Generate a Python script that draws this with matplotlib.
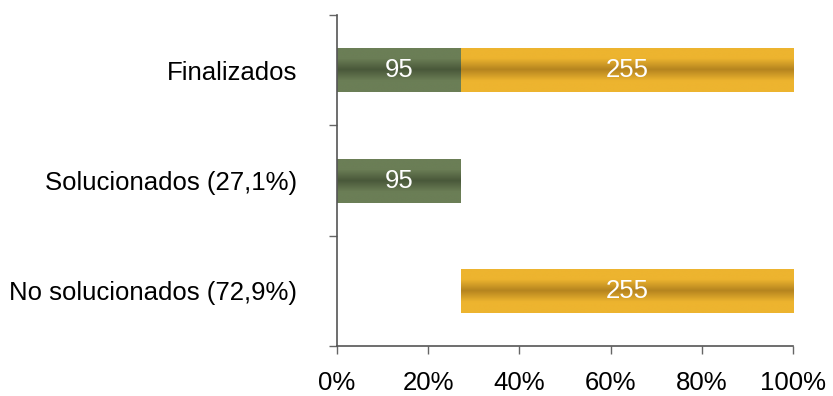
import numpy as np
import matplotlib.pyplot as plt
from matplotlib.colors import LinearSegmentedColormap

categories = ['No solucionados (72,9%)', 'Solucionados (27,1%)', 'Finalizados']
solved = [0, 95, 95]
unsolved = [255, 0, 255]
total = 350

plt.rcParams['font.family'] = ['Liberation Sans', 'DejaVu Sans']

green_edge, green_mid = '#6b7e56', '#49583a'
gold_edge, gold_mid = '#edb42f', '#b5841f'


def gradient_bar(ax, y, left, width, height, edge, mid):
    # horizontal bar with a darker band through its middle
    cmap = LinearSegmentedColormap.from_list('g', [edge, edge, mid, edge, edge], N=256)
    grad = np.linspace(0, 1, 256).reshape(-1, 1)
    bars = ax.barh(y, width, left=left, height=height, color='none', linewidth=0)
    for rect in bars:
        im = ax.imshow(grad, cmap=cmap, aspect='auto', zorder=2,
                       extent=[left, left + width, y - height / 2, y + height / 2])
        im.set_clip_path(rect)


fig = plt.figure(figsize=(8.33, 3.96), dpi=100)
ax = fig.add_axes([0.4046, 0.126, 0.5474, 0.836])

h = 0.4
for i, (s, u) in enumerate(zip(solved, unsolved)):
    s_pct = s / total * 100
    u_pct = u / total * 100
    left_u = solved[2] / total * 100
    if s:
        gradient_bar(ax, i, 0, s_pct, h, green_edge, green_mid)
        ax.text(s_pct / 2, i, str(s), ha='center', va='center',
                color='white', fontsize=18.5, zorder=3)
    if u:
        gradient_bar(ax, i, left_u, u_pct, h, gold_edge, gold_mid)
        ax.text(left_u + u_pct / 2, i, str(u), ha='center', va='center',
                color='white', fontsize=18.5, zorder=3)

ax.set_xlim(0, 100)
ax.set_ylim(-0.5, 2.5)

ax.set_xticks(np.arange(0, 101, 20))
ax.set_xticklabels([f'{v}%' for v in range(0, 101, 20)])
ax.set_yticks(range(len(categories)))
ax.set_yticklabels(categories)
ax.set_yticks([-0.5, 0.5, 1.5, 2.5], minor=True)

ax.tick_params(axis='x', length=6, width=1, color='#666666', labelsize=18.5, pad=12)
ax.tick_params(axis='y', which='major', length=0, labelsize=18.5, pad=29)
ax.tick_params(axis='y', which='minor', length=6, width=1, color='#666666')

for side in ('top', 'right'):
    ax.spines[side].set_visible(False)
for side in ('left', 'bottom'):
    ax.spines[side].set_color('#555555')
    ax.spines[side].set_linewidth(1.2)

fig.savefig('out.png', dpi=100)
